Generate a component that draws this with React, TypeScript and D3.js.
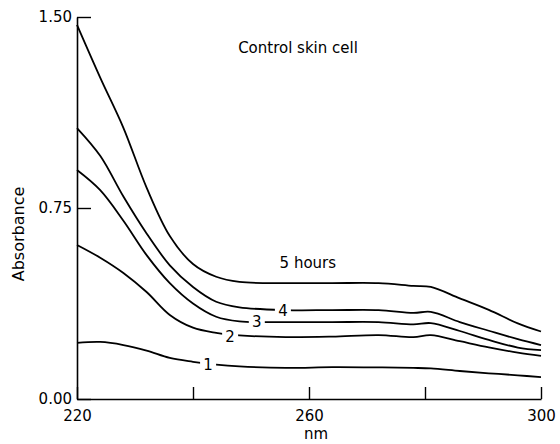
import { useEffect, useRef } from 'react'
import * as d3 from 'd3'

const W = 560
const H = 444
const FONT = '"DejaVu Sans", sans-serif'

// wavelength grid (nm) shared by all curves
const wavelengths = [220, 224, 228, 232, 236, 240, 244, 248, 256, 264, 272, 278, 281, 286, 291, 296, 300]

const curve5h = [1.469, 1.262, 1.065, 0.83, 0.64, 0.53, 0.48, 0.46, 0.455, 0.455, 0.455, 0.444, 0.44, 0.395, 0.35, 0.297, 0.265]
const curve4 = [1.064, 0.955, 0.795, 0.65, 0.525, 0.44, 0.382, 0.36, 0.349, 0.349, 0.349, 0.338, 0.342, 0.302, 0.268, 0.235, 0.212]
const curve3 = [0.899, 0.82, 0.7, 0.565, 0.455, 0.375, 0.323, 0.305, 0.302, 0.302, 0.302, 0.293, 0.298, 0.267, 0.232, 0.202, 0.192]
const curve2 = [0.605, 0.555, 0.495, 0.42, 0.33, 0.28, 0.26, 0.25, 0.243, 0.245, 0.251, 0.243, 0.251, 0.227, 0.203, 0.182, 0.169]
const curve1 = [0.22, 0.224, 0.212, 0.19, 0.161, 0.146, 0.135, 0.128, 0.122, 0.125, 0.124, 0.122, 0.12, 0.11, 0.101, 0.093, 0.086]

const curves = [curve5h, curve4, curve3, curve2, curve1]

// inline labels sitting on the curves
const lineLabels = ['4', '3', '2', '1']
const lineLabelNm = [255.5, 251, 246.4, 242.6]
const lineLabelVal = [0.349, 0.302, 0.245, 0.134]

const xTicks = [220, 240, 260, 280, 300]
const xTickLabels = ['220', '', '260', '', '300']
const yTicks = [0, 0.75, 1.5]

export default function App() {
  const svgRef = useRef<SVGSVGElement>(null)

  useEffect(() => {
    if (!svgRef.current) return
    const svg = d3.select(svgRef.current)
    svg.selectAll('*').remove()

    const x = d3.scaleLinear().domain([220, 300]).range([77, 541])
    const y = d3.scaleLinear().domain([0, 1.5]).range([399, 17])

    // x axis, ticks pointing up into the plot
    svg.append('g')
      .attr('transform', `translate(0,${y(0)})`)
      .call(d3.axisBottom(x).tickValues(xTicks).tickSizeInner(-12).tickSizeOuter(0).tickPadding(11)
        .tickFormat((_, i) => xTickLabels[i]))
      .call(ax => {
        ax.select('.domain').attr('stroke', '#000').attr('stroke-width', 1.6)
        ax.selectAll('line').attr('stroke', '#000').attr('stroke-width', 1.4)
        ax.selectAll('text').attr('fill', '#000').style('font-size', '15px').style('font-family', FONT)
      })

    // y axis, ticks pointing right
    svg.append('g')
      .attr('transform', `translate(${x(220)},0)`)
      .call(d3.axisLeft(y).tickValues(yTicks).tickSizeInner(-14).tickSizeOuter(0).tickPadding(5)
        .tickFormat(d => d3.format('.2f')(Number(d))))
      .call(ax => {
        ax.select('.domain').attr('stroke', '#000').attr('stroke-width', 1.6)
        ax.selectAll('line').attr('stroke', '#000').attr('stroke-width', 1.4)
        ax.selectAll('text').attr('fill', '#000').style('font-size', '15px').style('font-family', FONT)
      })

    const line = d3.line<number>()
      .x((_, i) => x(wavelengths[i]))
      .y(d => y(d))
      .curve(d3.curveCatmullRom.alpha(0.5))

    svg.append('g')
      .selectAll('path')
      .data(curves)
      .join('path')
      .attr('d', d => line(d))
      .attr('fill', 'none')
      .attr('stroke', '#000')
      .attr('stroke-width', 1.8)

    // curve numbers with a white gap behind them
    const lab = svg.append('g')
    lineLabels.forEach((t, i) => {
      const cx = x(lineLabelNm[i])
      const cy = y(lineLabelVal[i])
      lab.append('rect').attr('x', cx - 8).attr('y', cy - 9).attr('width', 16).attr('height', 18).attr('fill', '#fff')
      lab.append('text').attr('x', cx).attr('y', cy).attr('dy', '0.36em')
        .attr('text-anchor', 'middle').style('font-size', '15px').style('font-family', FONT).text(t)
    })

    svg.append('text')
      .attr('x', x(259.8)).attr('y', y(0.537)).attr('dy', '0.36em')
      .attr('text-anchor', 'middle').style('font-size', '15px').style('font-family', FONT)
      .text('5 hours')

    svg.append('text')
      .attr('x', 298).attr('y', 53)
      .attr('text-anchor', 'middle').style('font-size', '15px').style('font-family', FONT)
      .text('Control skin cell')

    svg.append('text')
      .attr('x', 316).attr('y', 439)
      .attr('text-anchor', 'middle').style('font-size', '15px').style('font-family', FONT)
      .text('nm')

    svg.append('text')
      .attr('transform', `translate(18,234) rotate(-90)`)
      .attr('dy', '0.36em')
      .attr('text-anchor', 'middle').style('font-size', '16px').style('font-family', FONT)
      .text('Absorbance')
  }, [])

  return (
    <svg ref={svgRef} width={W} height={H}
      style={{ position: 'absolute', left: 0, top: 0, background: '#fff' }} />
  )
}
